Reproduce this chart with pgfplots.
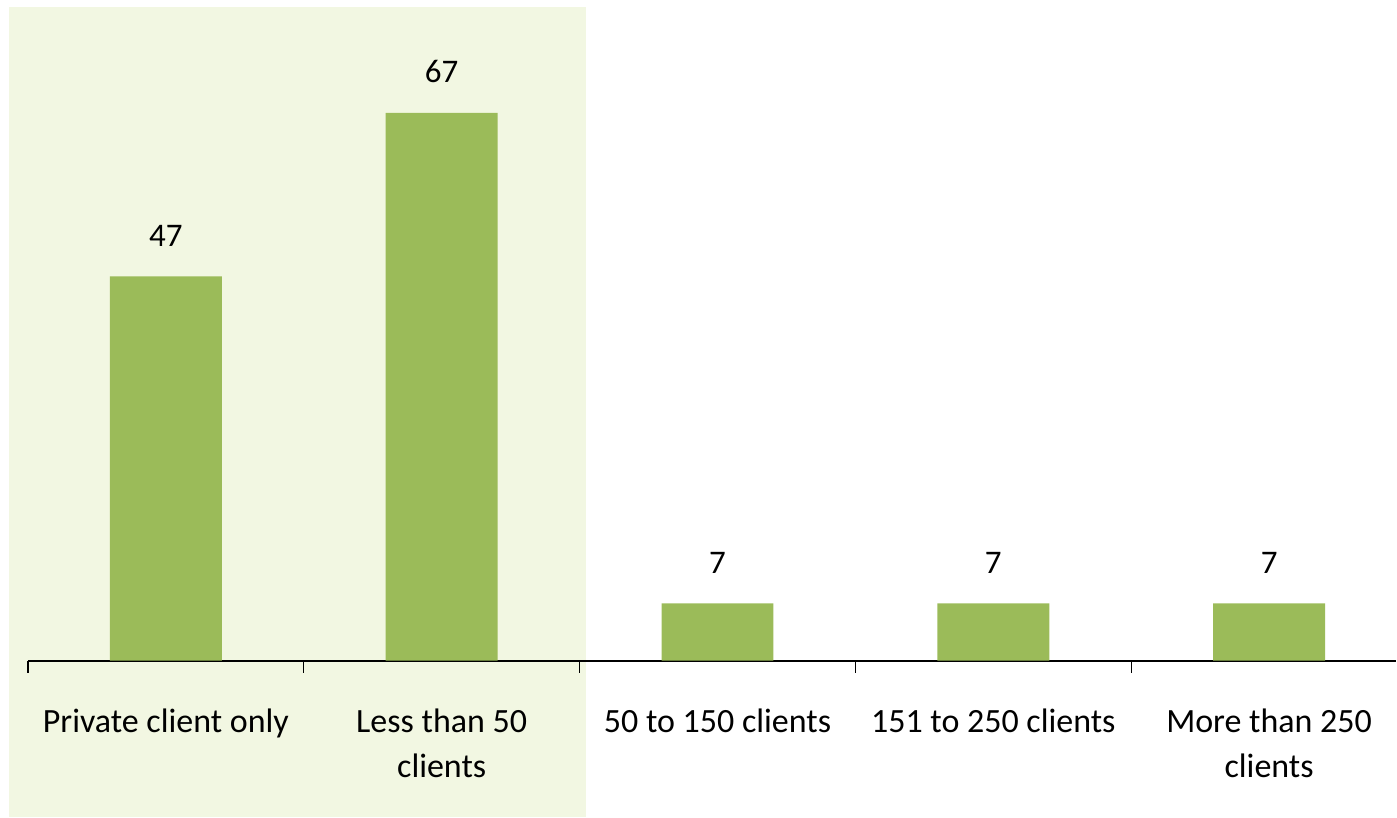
\documentclass[border=0pt]{standalone}
\usepackage{pgfplots}
\pgfplotsset{compat=1.18}
\usepackage{fontspec}
\setmainfont{Carlito}
\definecolor{bargreen}{HTML}{9BBB59}
\definecolor{panelgreen}{HTML}{F2F7E2}
\pgfplotsset{set layers=standard}
\begin{document}
\begin{tikzpicture}
\begin{axis}[
  scale only axis,
  width=684.5bp, height=327.2bp,
  xmin=-0.5, xmax=4.4601,
  ymin=0, ymax=80,
  clip=false,
  axis x line=bottom,
  axis y line=none,
  axis line style={black, line width=1bp, -},
  ybar, bar width=56bp,
  xtick={0,1,2,3,4},
  xticklabels={Private client only, Less than 50\\clients, 50 to 150 clients, 151 to 250 clients, More than 250\\clients},
  major tick length=0pt,
  extra x ticks={-0.5,0.5,1.5,2.5,3.5},
  extra x tick labels={},
  extra x tick style={major tick length=6bp, tick align=outside, tick style={black, line width=0.6bp}},
  xticklabel style={font=\fontsize{17bp}{22.5bp}\selectfont, align=center, anchor=north, inner sep=0pt, yshift=-24bp},
  /pgf/number format/assume math mode=true,
  nodes near coords,
  nodes near coords style={font=\fontsize{16.5bp}{19bp}\selectfont, anchor=base, yshift=15bp, inner sep=0pt, black},
]
% shaded panel behind the first two categories
\begin{pgfonlayer}{axis background}
\fill[panelgreen] (axis cs:-0.5688,-19.19) rectangle (axis cs:1.5217,79.95);
\end{pgfonlayer}
\addplot[fill=bargreen, draw=none] coordinates {(0,47) (1,67) (2,7) (3,7) (4,7)};
% page extent
\path (axis cs:-0.6014,-19.193) rectangle (axis cs:4.4601,80.807);
\end{axis}
\end{tikzpicture}
\end{document}
